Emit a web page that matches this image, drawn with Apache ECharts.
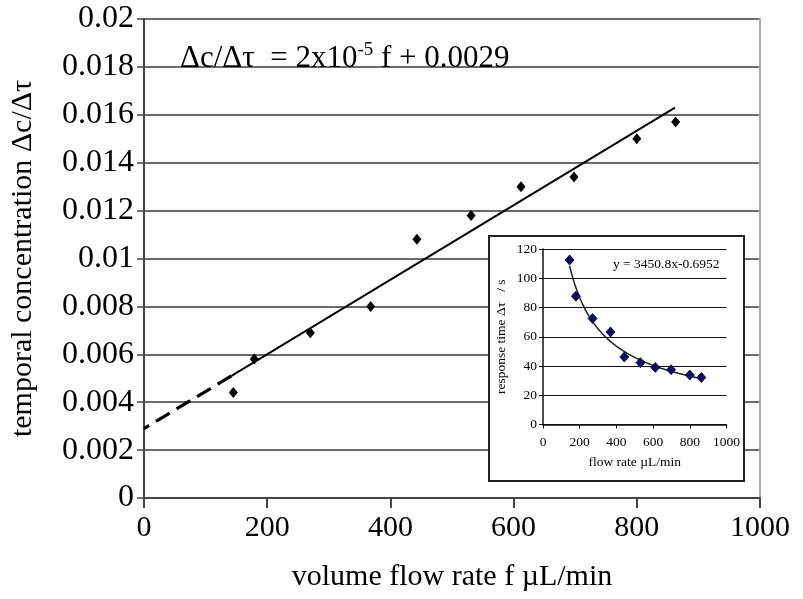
<!DOCTYPE html>
<html>
<head>
<meta charset="utf-8">
<title>Temporal concentration vs. volume flow rate</title>
<script src="https://cdn.jsdelivr.net/npm/echarts@6/dist/echarts.min.js"></script>
<style>
  html, body { margin: 0; padding: 0; background: #fff; }
  #chart { width: 803px; height: 599px; }
</style>
</head>
<body>
<div id="chart"></div>
<script>
// Measured flow rates (µL/min) shared by both plots
const flowRate = [145, 179, 270, 368, 443, 531, 612, 698, 800, 863];
// Main plot: temporal concentration change Δc/Δτ
const concentration = [0.0044, 0.0058, 0.0069, 0.0080, 0.0108, 0.0118, 0.0130, 0.0134, 0.0150, 0.0157];
// Inset: response time Δτ in seconds
const responseTime = [112.5, 87.7, 72.5, 63.3, 46.2, 42.3, 39.0, 37.5, 33.8, 32.2];

// Linear fit drawn as an extrapolated (dashed) part and a fitted (solid) part
const fitDashed = [[0, 0.0029], [142, 0.0051]];
const fitSolid = [[142, 0.0051], [862, 0.0163]];

// Power-law fit of the inset: y = 3450.8 · x^-0.6952
const powerCoef = 3450.8;
const powerExp = -0.6952;
const powerRange = [145, 863];

// Tick values
const mainXTicks = [0, 200, 400, 600, 800, 1000];
const mainYTicks = [0, 0.002, 0.004, 0.006, 0.008, 0.01, 0.012, 0.014, 0.016, 0.018, 0.02];
const insetXTicks = [0, 200, 400, 600, 800, 1000];
const insetYTicks = [0, 20, 40, 60, 80, 100, 120];

const FONT = 'Liberation Serif';

const powerCurve = [];
for (let x = powerRange[0]; x <= powerRange[1]; x += 6) {
  powerCurve.push([x, powerCoef * Math.pow(x, powerExp)]);
}
powerCurve.push([powerRange[1], powerCoef * Math.pow(powerRange[1], powerExp)]);

const pairs = (xs, ys) => xs.map((x, i) => [x, ys[i]]);
const step = arr => arr[1] - arr[0];
const plain = v => String(+v.toFixed(3));

const chart = echarts.init(document.getElementById('chart'), null, { renderer: 'canvas' });

chart.setOption({
  animation: false,
  backgroundColor: '#fff',
  textStyle: { fontFamily: FONT },
  title: {
    left: 175,
    top: 36,
    text: '{a|Δc/Δτ  = 2x10}{s|-5}{a| f + 0.0029}',
    textStyle: {
      fontWeight: 'normal',
      rich: {
        a: { fontFamily: FONT, fontSize: 31, fontWeight: 'normal', color: '#000', lineHeight: 36 },
        s: { fontFamily: FONT, fontSize: 19, fontWeight: 'normal', color: '#000', verticalAlign: 'top', lineHeight: 36, padding: [0, 0, 14, 0] }
      }
    }
  },
  grid: [
    { left: 142, top: 19, width: 618, height: 479 },
    { left: 543, top: 249, width: 183.5, height: 175.5 }
  ],
  graphic: [
    {
      type: 'rect',
      z: 5,
      shape: { x: 489, y: 236, width: 255, height: 245 },
      style: { fill: '#fff', stroke: '#222', lineWidth: 2 }
    }
  ],
  xAxis: [
    {
      gridIndex: 0,
      type: 'value',
      min: mainXTicks[0],
      max: mainXTicks[mainXTicks.length - 1],
      interval: step(mainXTicks),
      name: 'volume flow rate f µL/min',
      nameLocation: 'middle',
      nameGap: 64,
      nameTextStyle: { fontFamily: FONT, fontSize: 30, color: '#000' },
      axisLine: { lineStyle: { color: '#444', width: 2 } },
      axisTick: { show: true, inside: false, length: 10, lineStyle: { color: '#444', width: 2 } },
      axisLabel: { fontFamily: FONT, fontSize: 30, color: '#000', margin: 15, formatter: plain },
      splitLine: { show: false }
    },
    {
      gridIndex: 1,
      type: 'value',
      z: 6,
      min: insetXTicks[0],
      max: insetXTicks[insetXTicks.length - 1],
      interval: step(insetXTicks),
      name: 'flow rate µL/min',
      nameLocation: 'middle',
      nameGap: 31,
      nameTextStyle: { fontFamily: FONT, fontSize: 13.5, color: '#000' },
      axisLine: { lineStyle: { color: '#111', width: 1.5 } },
      axisTick: { show: true, length: 4, lineStyle: { color: '#111', width: 1 } },
      axisLabel: { fontFamily: FONT, fontSize: 13.5, color: '#000', margin: 11, formatter: plain },
      splitLine: { show: false }
    }
  ],
  yAxis: [
    {
      gridIndex: 0,
      type: 'value',
      min: mainYTicks[0],
      max: mainYTicks[mainYTicks.length - 1],
      interval: step(mainYTicks),
      name: 'temporal concentration Δc/Δτ',
      nameLocation: 'middle',
      nameGap: 106,
      nameTextStyle: { fontFamily: FONT, fontSize: 30, color: '#000' },
      axisLine: { lineStyle: { color: '#444', width: 2 } },
      axisTick: { show: true, length: 7, lineStyle: { color: '#444', width: 1.5 } },
      axisLabel: { fontFamily: FONT, fontSize: 32, color: '#000', margin: 10, formatter: plain },
      splitLine: { show: true, lineStyle: { color: '#3a3a3a', width: 1.5 } }
    },
    {
      // right frame of the main plot area
      gridIndex: 0,
      type: 'value',
      position: 'right',
      min: 0,
      max: 1,
      axisLine: { show: true, lineStyle: { color: '#aaa', width: 2 } },
      axisTick: { show: false },
      axisLabel: { show: false },
      splitLine: { show: false }
    },
    {
      gridIndex: 1,
      type: 'value',
      z: 6,
      min: insetYTicks[0],
      max: insetYTicks[insetYTicks.length - 1],
      interval: step(insetYTicks),
      name: 'response time Δτ   / s',
      nameLocation: 'middle',
      nameGap: 35,
      nameTextStyle: { fontFamily: FONT, fontSize: 13.5, color: '#000' },
      axisLine: { lineStyle: { color: '#111', width: 1.5 } },
      axisTick: { show: true, length: 4, lineStyle: { color: '#111', width: 1 } },
      axisLabel: { fontFamily: FONT, fontSize: 13.5, color: '#000', margin: 6 },
      splitLine: { show: true, lineStyle: { color: '#111', width: 1.2 } }
    }
  ],
  series: [
    {
      name: 'fit (extrapolated)',
      type: 'line',
      xAxisIndex: 0,
      yAxisIndex: 0,
      data: fitDashed,
      symbol: 'none',
      lineStyle: { color: '#000', width: 3.2, type: [16, 8], dashOffset: 10 },
      z: 2
    },
    {
      name: 'fit',
      type: 'line',
      xAxisIndex: 0,
      yAxisIndex: 0,
      data: fitSolid,
      symbol: 'none',
      lineStyle: { color: '#000', width: 2 },
      z: 2
    },
    {
      name: 'Δc/Δτ',
      type: 'scatter',
      xAxisIndex: 0,
      yAxisIndex: 0,
      data: pairs(flowRate, concentration),
      symbol: 'diamond',
      symbolSize: [9, 11],
      itemStyle: { color: '#000', opacity: 1 },
      z: 3
    },
    {
      name: 'power fit',
      type: 'line',
      xAxisIndex: 1,
      yAxisIndex: 2,
      data: powerCurve,
      symbol: 'none',
      smooth: true,
      lineStyle: { color: '#222', width: 1.5 },
      z: 7
    },
    {
      name: 'response time',
      type: 'scatter',
      xAxisIndex: 1,
      yAxisIndex: 2,
      data: pairs(flowRate, responseTime),
      symbol: 'diamond',
      symbolSize: [9, 10],
      itemStyle: { color: '#0b0b66', borderColor: '#000033', borderWidth: 0.8, opacity: 1 },
      z: 8,
      markPoint: {
        silent: true,
        symbol: 'rect',
        symbolSize: 0,
        data: [{
          coord: [insetXTicks[insetXTicks.length - 1], insetYTicks[insetYTicks.length - 1]],
          label: {
            show: true,
            position: 'insideRight',
            formatter: 'y = 3450.8x-0.6952',
            fontFamily: FONT,
            fontSize: 13.5,
            color: '#000',
            align: 'right',
            offset: [-2, 15]
          }
        }]
      }
    }
  ]
});
</script>
</body>
</html>
